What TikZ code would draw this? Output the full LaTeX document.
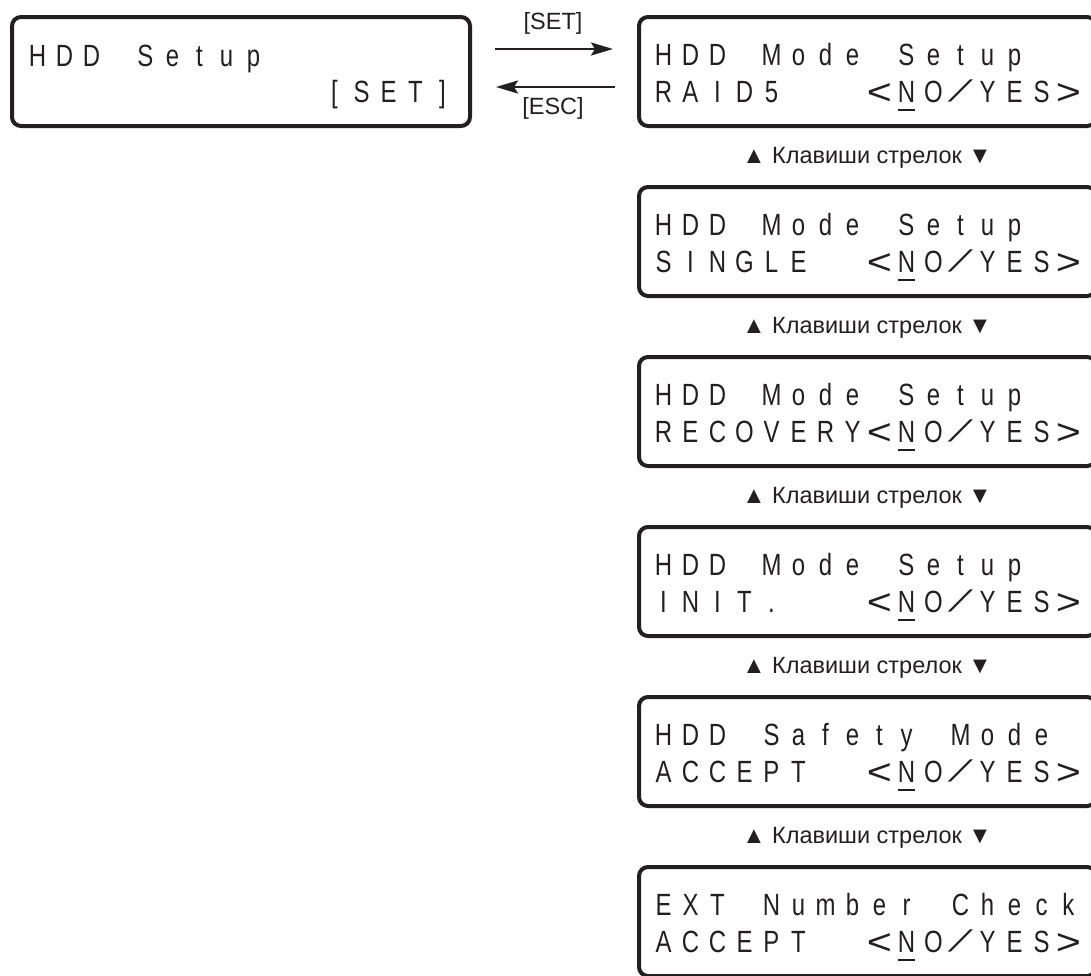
\documentclass[tikz,border=0pt]{standalone}
\usepackage{fontspec}
\usepackage{graphicx}
\setmainfont{Liberation Sans}
\newfontfamily\lcdfont[FakeStretch=0.78]{Liberation Sans}
\newfontfamily\lcdwfont{Liberation Sans}
\newfontfamily\lcdmono{DejaVu Sans Mono}
\usetikzlibrary{arrows.meta}
\definecolor{ink}{RGB}{35,31,32}
\makeatletter
\newcommand\lcdrow[1]{\lcd@loop#1\relax}
\def\lcd@loop#1{\ifx\relax#1\else\makebox[27pt][c]{#1}\expandafter\lcd@loop\fi}
\makeatother
\newcommand\lcdlt{\raisebox{-2pt}{\scalebox{1.4}[1.17]{\lcdwfont<}}}
\newcommand\lcdgt{\raisebox{-2pt}{\scalebox{1.4}[1.17]{\lcdwfont>}}}
\newcommand\lcdsl{\raisebox{4.3pt}{\scalebox{1.2}[0.62]{\lcdmono ╱}}}
\newcommand\lcdN{\ooalign{N\cr\hidewidth\rule[-9pt]{17pt}{2.5pt}\hidewidth\cr}}
\tikzset{
  lcdbox/.style={draw=ink, line width=4pt, rounded corners=9pt, inner sep=0pt, outer sep=0pt, minimum height=109pt},
  lcdtext/.style={anchor=base west, inner sep=0pt, outer sep=0pt, text=ink, font=\lcdfont\fontsize{30.7}{30.7}\selectfont},
  keylabel/.style={anchor=base, inner sep=0pt, text=ink, font=\fontsize{23.5}{23.5}\selectfont},
  arr/.style={draw=ink, line width=2.7pt, -{Stealth[length=22pt, width=13pt, inset=4pt]}}
}
\begin{document}
\begin{tikzpicture}[x=1pt, y=-1pt]
\useasboundingbox (0,0) rectangle (1091,975);
\clip (0,0) rectangle (1091,975);
% left screen
\node[lcdbox, minimum width=458pt] (lcd0) at (241,71.5) {};
\node[lcdtext] (lcd0a) at (24,66) {\lcdrow{HDD~Setup}};
\node[lcdtext] (lcd0b) at (24,102) {\lcdrow{~~~~~~~~~~~[SET]}};
% right screens
\foreach \i in {0,...,5}{
  \node[lcdbox, minimum width=457pt] (scr\i) at (867.5,71.5+170*\i) {};
}
\node[lcdtext] (scr0a) at (650,65.5) {\lcdrow{HDD~Mode~Setup}};
\node[lcdtext] (scr0b) at (650,102) {\lcdrow{RAID5~~~\lcdlt\lcdN O\lcdsl YES\lcdgt}};
\node[lcdtext] (scr1a) at (650,235.5) {\lcdrow{HDD~Mode~Setup}};
\node[lcdtext] (scr1b) at (650,272) {\lcdrow{SINGLE~~\lcdlt\lcdN O\lcdsl YES\lcdgt}};
\node[lcdtext] (scr2a) at (650,405.5) {\lcdrow{HDD~Mode~Setup}};
\node[lcdtext] (scr2b) at (650,442) {\lcdrow{RECOVERY\lcdlt\lcdN O\lcdsl YES\lcdgt}};
\node[lcdtext] (scr3a) at (650,575.5) {\lcdrow{HDD~Mode~Setup}};
\node[lcdtext] (scr3b) at (650,612) {\lcdrow{INIT.~~~\lcdlt\lcdN O\lcdsl YES\lcdgt}};
\node[lcdtext] (scr4a) at (650,745.5) {\lcdrow{HDD~Safety~Mode}};
\node[lcdtext] (scr4b) at (650,782) {\lcdrow{ACCEPT~~\lcdlt\lcdN O\lcdsl YES\lcdgt}};
\node[lcdtext] (scr5a) at (650,915.5) {\lcdrow{EXT~Number~Check}};
\node[lcdtext] (scr5b) at (650,952) {\lcdrow{ACCEPT~~\lcdlt\lcdN O\lcdsl YES\lcdgt}};
\foreach \i in {0,...,4}{
  \node[keylabel] (keys\i) at (867,163+170*\i) {▲ Клавиши стрелок ▼};
}
% arrows
\draw[arr, shorten <=25pt, shorten >=26pt] ([yshift=22.5pt]lcd0.east) -- ([yshift=22.5pt]scr0.west);
\draw[arr, shorten <=24pt, shorten >=26pt] ([yshift=-15.5pt]scr0.west) -- ([yshift=-15.5pt]lcd0.east);
\node[keylabel] (setlbl) at (553,29) {[SET]};
\node[keylabel] (esclbl) at (553,114) {[ESC]};
\end{tikzpicture}
\end{document}
